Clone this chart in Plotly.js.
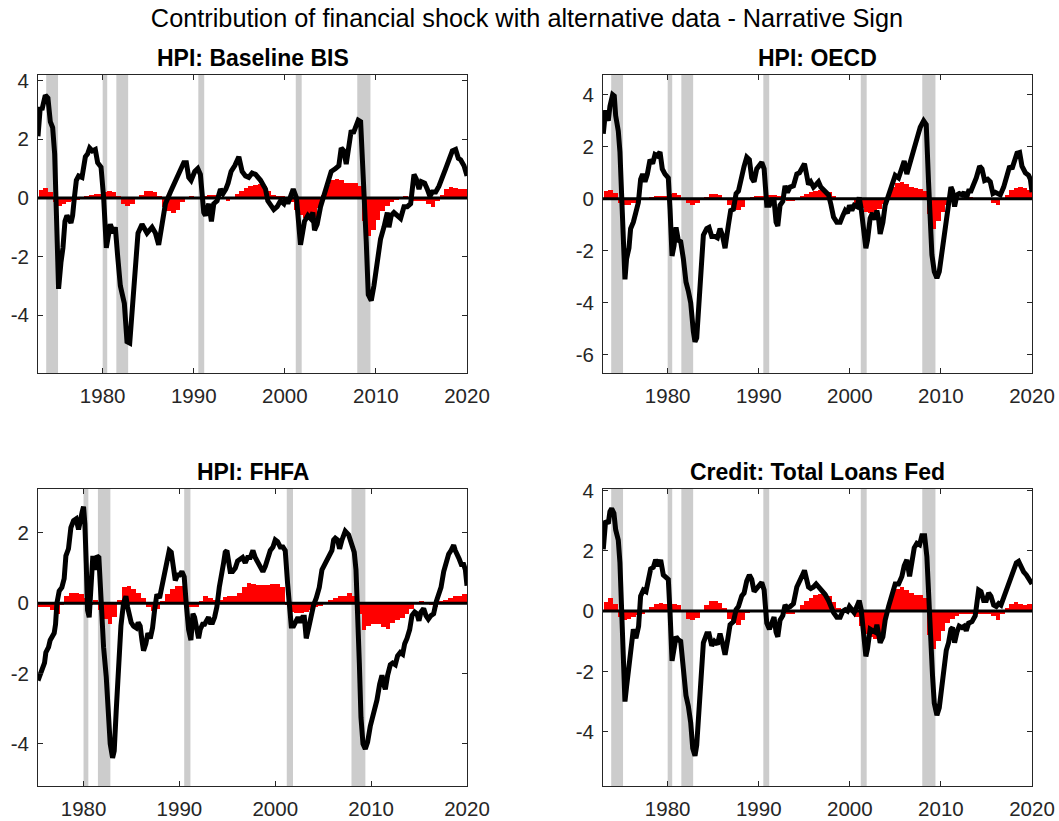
<!DOCTYPE html>
<html>
<head>
<meta charset="utf-8">
<script src="https://cdn.plot.ly/plotly-3.0.1.min.js"></script>
<style>html,body{margin:0;padding:0;background:#fff;}#chart{width:1059px;height:821px;}</style>
</head>
<body>
<div id="chart"></div>
<script>
// ---------- DATA ----------
const recessionStarts = [1973.8, 1980.0, 1981.5, 1990.5, 2001.2, 2007.95];
const recessionEnds   = [1975.1, 1980.5, 1982.8, 1991.15, 2001.85, 2009.4];

const xTickVals = [1980, 1990, 2000, 2010, 2020];
const xTickText = ['1980', '1990', '2000', '2010', '2020'];

const panelTitles = ['HPI: Baseline BIS', 'HPI: OECD', 'HPI: FHFA', 'Credit: Total Loans Fed'];
const mainTitle = 'Contribution of financial shock with alternative data - Narrative Sign';

// Half-year bar dates (panels 1, 2, 4)
const barDates = [1973.25,1973.75,1974.25,1974.75,1975.25,1975.75,1976.25,1976.75,1977.25,1977.75,1978.25,1978.75,1979.25,1979.75,
1980.25,1980.75,1981.25,1981.75,1982.25,1982.75,1983.25,1983.75,1984.25,1984.75,1985.25,1985.75,1986.25,1986.75,1987.25,1987.75,1988.25,1988.75,1989.25,1989.75,
1990.25,1990.75,1991.25,1991.75,1992.25,1992.75,1993.25,1993.75,1994.25,1994.75,1995.25,1995.75,1996.25,1996.75,1997.25,1997.75,1998.25,1998.75,1999.25,1999.75,
2000.25,2000.75,2001.25,2001.75,2002.25,2002.75,2003.25,2003.75,2004.25,2004.75,2005.25,2005.75,2006.25,2006.75,2007.25,2007.75,2008.25,2008.75,2009.25,2009.75,
2010.25,2010.75,2011.25,2011.75,2012.25,2012.75,2013.25,2013.75,2014.25,2014.75,2015.25,2015.75,2016.25,2016.75,2017.25,2017.75,2018.25,2018.75,2019.25,2019.75];
// Half-year bar dates (panel 3)
const fhfaBarDates = [1975.25,1975.75,1976.25,1976.75,1977.25,1977.75,1978.25,1978.75,1979.25,1979.75,
1980.25,1980.75,1981.25,1981.75,1982.25,1982.75,1983.25,1983.75,1984.25,1984.75,1985.25,1985.75,1986.25,1986.75,1987.25,1987.75,1988.25,1988.75,1989.25,1989.75,
1990.25,1990.75,1991.25,1991.75,1992.25,1992.75,1993.25,1993.75,1994.25,1994.75,1995.25,1995.75,1996.25,1996.75,1997.25,1997.75,1998.25,1998.75,1999.25,1999.75,
2000.25,2000.75,2001.25,2001.75,2002.25,2002.75,2003.25,2003.75,2004.25,2004.75,2005.25,2005.75,2006.25,2006.75,2007.25,2007.75,2008.25,2008.75,2009.25,2009.75,
2010.25,2010.75,2011.25,2011.75,2012.25,2012.75,2013.25,2013.75,2014.25,2014.75,2015.25,2015.75,2016.25,2016.75,2017.25,2017.75,2018.25,2018.75,2019.25,2019.75];

// Panel 1: HPI Baseline BIS
const bisBars = [0.28,0.33,0.2,-0.15,-0.28,-0.2,-0.15,-0.1,-0.07,-0.02,0.08,0.1,0.12,0.15,
0.2,0.23,0.2,0.05,-0.2,-0.27,-0.2,-0.05,0.1,0.22,0.25,0.2,0.05,-0.3,-0.45,-0.5,-0.4,-0.15,0.03,0.05,
-0.05,-0.05,0.05,0.1,0.1,0.05,-0.05,-0.1,0.0,0.15,0.25,0.35,0.4,0.45,0.47,0.4,0.25,0.1,0.05,0.05,
0.0,-0.15,-0.4,-0.6,-0.7,-0.75,-0.65,-0.35,0.1,0.45,0.62,0.65,0.6,0.52,0.5,0.5,0.42,-0.8,-1.3,-1.1,
-0.75,-0.45,-0.28,-0.15,-0.08,0.03,0.05,0.03,-0.1,-0.12,-0.1,-0.2,-0.3,-0.1,0.1,0.3,0.38,0.35,0.3,0.32];
const bisLineYears = [1972.9,1973.15,1973.33,1973.52,1973.7,1973.99,1974.25,1974.51,1974.73,1974.87,1974.98,1975.16,1975.42,1975.64,1975.86,1976.08,1976.52,1976.7,1976.89,1977.11,1977.36,1977.73,1978.1,1978.35,1978.57,1978.86,1979.19,1979.45,1979.82,
1980.11,1980.4,1980.84,1981.21,1981.39,1981.65,1981.94,1982.38,1982.67,1982.97,1983.33,1983.59,1983.88,1984.32,1984.87,1985.42,1985.79,1986.15,1986.63,1986.89,1987.44,1987.99,1988.53,1988.9,1989.19,1989.45,1989.71,
1990.11,1990.44,1990.73,1991.1,1991.28,1991.65,1991.94,1992.2,1992.56,1992.93,1993.22,1993.52,1993.77,1994.1,1994.51,1994.95,1995.31,1995.68,1996.04,1996.41,1996.78,1997.33,1997.88,1998.13,1998.5,1998.79,1999.16,1999.52,1999.89,
2000.11,2000.33,2000.92,2001.28,2001.72,2002.16,2002.53,2002.82,2003.08,2003.26,2003.55,2003.92,2004.29,2004.65,2005.09,2005.57,2005.93,2006.19,2006.48,2006.74,2007.03,2007.29,2007.51,2007.84,2008.06,2008.32,2008.68,2008.94,2009.16,2009.49,2009.78,
2010.15,2010.51,2010.88,2011.25,2011.43,2011.68,2011.98,2012.34,2012.71,2013.08,2013.44,2013.81,2014.18,2014.43,2014.73,2014.98,2015.35,2015.64,2015.93,2016.19,2016.56,2016.92,2017.29,2017.66,2018.02,2018.39,2018.75,2019.05,2019.3,2019.67,2020.0];
const bisLineValues = [2.1,3.1,3.0,3.3,3.5,3.4,2.6,2.4,1.5,0.0,-2.2,-3.1,-2.2,-1.7,-0.8,-0.6,-0.85,-0.6,0.0,0.6,0.75,0.7,1.4,1.5,1.7,1.6,1.65,1.2,1.05,
0.0,-1.7,-0.9,-1.2,-1.0,-2.0,-3.0,-3.6,-4.9,-4.95,-3.5,-2.0,-1.2,-0.9,-1.2,-1.0,-1.2,-1.6,-0.5,-0.2,0.2,0.6,1.0,1.2,1.2,0.7,0.6,
0.9,1.0,0.8,-0.5,-0.6,-0.2,-0.8,-0.2,-0.1,0.3,0.15,0.3,0.5,0.9,1.1,1.4,0.9,0.75,0.7,0.85,0.8,0.6,0.3,-0.1,-0.3,-0.4,-0.3,-0.1,-0.2,
0.0,-0.2,0.3,0.0,-1.6,-0.8,-0.6,-0.7,-0.5,-1.1,-0.9,-0.3,0.1,0.4,0.9,1.0,1.1,1.7,1.6,1.15,1.9,2.3,2.2,2.5,2.65,2.6,0.5,-1.5,-3.3,-3.5,-3.0,
-2.0,-1.4,-1.0,-0.5,-1.0,-0.6,-0.5,-0.6,-0.7,-0.3,-0.3,-0.2,0.8,0.65,0.3,0.55,0.5,0.3,0.05,0.2,0.2,0.4,0.75,1.0,1.3,1.6,1.65,1.35,1.3,1.1,0.75];

// Panel 2: HPI OECD
const oecdBars = [0.3,0.35,0.22,-0.15,-0.25,-0.22,-0.15,-0.1,-0.05,0.02,0.08,0.1,0.12,0.12,
0.18,0.22,0.15,0.0,-0.15,-0.22,-0.18,-0.05,0.08,0.17,0.2,0.15,0.0,-0.25,-0.4,-0.45,-0.3,-0.05,0.05,0.1,
0.1,0.1,0.15,0.15,0.1,0.0,-0.08,-0.1,-0.02,0.1,0.18,0.25,0.3,0.35,0.35,0.25,0.1,0.02,0.02,-0.02,
-0.05,-0.15,-0.35,-0.5,-0.55,-0.5,-0.4,-0.2,0.15,0.45,0.6,0.65,0.55,0.45,0.4,0.38,0.3,-0.6,-1.15,-0.85,
-0.5,-0.25,-0.1,-0.03,0.02,0.03,0.05,0.03,0.0,-0.03,-0.05,-0.15,-0.25,-0.05,0.15,0.35,0.42,0.45,0.4,0.35];
const oecdLineYears = [1972.93,1973.19,1973.48,1973.66,1973.96,1974.14,1974.29,1974.58,1974.76,1974.95,1975.13,1975.31,1975.49,1975.75,1975.93,1976.23,1976.52,1976.78,1977.03,1977.25,1977.51,1977.77,1978.06,1978.35,1978.61,1978.86,1979.16,1979.41,1979.71,
1980.07,1980.26,1980.48,1980.7,1980.92,1981.17,1981.43,1981.72,1982.01,1982.27,1982.53,1982.82,1983.0,1983.19,1983.44,1983.66,1983.92,1984.29,1984.54,1984.84,1985.2,1985.46,1985.75,1986.01,1986.3,1986.67,1986.92,1987.22,1987.51,1987.77,1988.13,1988.39,1988.68,1988.97,1989.23,1989.49,1989.78,
1990.07,1990.33,1990.59,1990.88,1991.17,1991.43,1991.68,1991.9,1992.09,1992.34,1992.64,1992.89,1993.15,1993.44,1993.81,1994.18,1994.47,1994.73,1995.02,1995.27,1995.46,1995.71,1996.01,1996.3,1996.56,1996.81,1997.29,1997.66,1997.91,1998.21,1998.57,1998.94,1999.23,1999.49,1999.74,1999.96,
2000.22,2000.48,2000.77,2001.03,2001.25,2001.5,2001.76,2001.94,2002.23,2002.49,2002.78,2002.97,2003.15,2003.33,2003.63,2003.88,2004.25,2004.62,2004.98,2005.35,2005.71,2005.97,2006.26,2006.45,2006.81,2007.07,2007.44,2007.73,2008.1,2008.39,2008.64,2008.83,2009.01,2009.27,2009.56,2009.82,
2010.11,2010.37,2010.59,2010.84,2011.1,2011.28,2011.5,2011.76,2012.01,2012.31,2012.56,2012.78,2013.04,2013.3,2013.59,2013.88,2014.25,2014.51,2014.8,2015.13,2015.42,2015.71,2015.97,2016.26,2016.52,2016.89,2017.25,2017.55,2017.8,2018.06,2018.35,2018.64,2018.9,2019.27,2019.63,2019.82,2020.0];
const oecdLineValues = [2.5,3.4,3.0,3.55,4.0,3.95,3.2,2.6,1.8,0.0,-2.3,-3.1,-2.3,-1.9,-1.15,-0.9,-0.5,-0.15,0.75,0.95,0.65,0.95,1.5,1.35,1.7,1.65,1.8,1.15,0.95,
0.8,-0.4,-2.2,-1.8,-1.1,-1.6,-1.65,-2.3,-3.2,-3.55,-4.0,-5.1,-5.5,-5.35,-3.8,-2.8,-1.4,-1.15,-1.1,-1.45,-1.45,-1.5,-1.15,-1.4,-1.9,-1.0,-0.45,-0.4,0.2,0.3,0.95,1.25,1.6,1.5,0.8,0.65,1.15,
1.25,1.4,1.15,-0.25,-0.25,-0.05,-0.05,-0.9,-1.05,-0.25,-0.1,0.5,0.25,0.45,0.5,0.95,1.0,1.2,1.35,0.9,0.55,0.65,0.45,0.55,0.65,0.45,0.3,0.15,-0.2,-0.7,-0.9,-0.9,-0.65,-0.45,-0.55,-0.25,
-0.45,-0.25,-0.3,0.05,-0.4,-1.3,-1.9,-1.6,-0.75,-0.55,-0.8,-0.45,-0.75,-1.35,-0.9,-0.25,0.15,0.55,0.9,0.8,1.15,1.45,0.95,1.15,1.65,1.95,2.4,2.75,3.0,2.85,0.65,-1.0,-2.15,-2.8,-3.05,-2.8,
-2.05,-1.5,-0.9,0.0,0.45,0.3,-0.3,0.15,0.2,0.15,0.25,0.0,0.3,0.3,0.55,0.8,1.25,1.15,0.7,0.75,0.65,0.2,0.25,0.2,0.15,0.45,0.9,1.25,1.15,1.5,1.75,1.78,1.25,1.0,0.9,0.75,0.25];

// Panel 3: HPI FHFA
const fhfaBars = [-0.1,-0.1,-0.12,-0.2,-0.3,-0.05,0.2,0.3,0.28,0.25,
0.15,-0.05,0.1,-0.2,-0.45,-0.6,-0.4,0.1,0.45,0.5,0.4,0.3,0.15,-0.1,-0.22,-0.15,0.05,0.25,0.4,0.5,
0.5,-0.05,-0.12,-0.1,0.05,0.2,0.15,0.08,0.1,0.18,0.2,0.2,0.3,0.45,0.57,0.55,0.52,0.53,0.52,0.55,
0.55,0.45,-0.05,-0.25,-0.28,-0.28,-0.25,-0.18,-0.12,-0.08,-0.03,0.08,0.15,0.2,0.22,0.28,0.2,-0.3,-0.75,-0.65,
-0.58,-0.58,-0.68,-0.72,-0.55,-0.48,-0.42,-0.32,-0.15,0.02,0.05,0.03,-0.05,-0.1,0.05,0.1,0.15,0.2,0.22,0.25];
const fhfaLineYears = [1975.25,1975.48,1975.72,1975.93,1976.07,1976.35,1976.52,1976.8,1976.94,1977.08,1977.22,1977.46,1977.74,1977.98,1978.16,1978.43,1978.68,1978.96,1979.23,1979.48,1979.65,1979.86,
1980.0,1980.14,1980.28,1980.42,1980.59,1980.77,1980.97,1981.18,1981.39,1981.6,1981.84,1982.09,1982.37,1982.61,1982.78,1983.03,1983.2,1983.41,1983.65,1983.9,1984.17,1984.42,1984.59,1984.77,1984.97,1985.22,1985.5,1985.7,1985.91,1986.09,1986.26,1986.5,1986.71,1986.96,1987.2,1987.41,1987.65,1987.93,1988.17,1988.45,1988.7,1988.94,1989.15,1989.32,1989.57,1989.81,
1990.02,1990.26,1990.5,1990.71,1990.96,1991.2,1991.41,1991.58,1991.76,1992.0,1992.17,1992.42,1992.63,1992.87,1993.04,1993.22,1993.46,1993.67,1993.91,1994.16,1994.4,1994.61,1994.78,1994.96,1995.1,1995.3,1995.55,1995.83,1996.07,1996.35,1996.59,1996.87,1997.11,1997.39,1997.67,1997.91,1998.16,1998.43,1998.71,1998.96,1999.23,1999.48,1999.76,
2000.0,2000.24,2000.52,2000.8,2001.04,2001.29,2001.5,2001.67,2001.91,2002.16,2002.37,2002.61,2002.85,2003.03,2003.23,2003.48,2003.72,2004.0,2004.28,2004.59,2004.87,2005.22,2005.57,2005.91,2006.09,2006.26,2006.5,2006.71,2006.96,2007.3,2007.65,2008.0,2008.24,2008.42,2008.59,2008.77,2008.94,2009.15,2009.39,2009.63,2009.91,
2010.26,2010.61,2010.89,2011.13,2011.3,2011.48,2011.72,2012.0,2012.24,2012.52,2012.76,2013.04,2013.29,2013.5,2013.74,2014.02,2014.26,2014.54,2014.78,2014.99,2015.2,2015.48,2015.72,2015.97,2016.24,2016.52,2016.8,2017.04,2017.29,2017.57,2017.81,2018.09,2018.33,2018.61,2018.78,2018.96,2019.2,2019.41,2019.65,2019.83,2020.0];
const fhfaLineValues = [-2.2,-2.05,-1.9,-1.7,-1.4,-1.25,-1.05,-0.95,-0.85,-0.6,0.0,0.35,0.45,0.7,1.35,1.55,2.15,2.35,2.4,2.1,2.4,2.6,
2.75,2.25,1.15,-0.2,-0.4,0.75,1.35,0.95,1.35,1.3,-0.2,-1.25,-2.1,-3.05,-4.0,-4.4,-4.2,-3.05,-1.6,-0.65,0.0,0.2,-0.1,-0.4,-0.55,-0.65,-0.7,-0.55,-0.65,-1.05,-1.35,-1.15,-0.85,-1.0,-0.7,-0.2,0.25,0.15,0.5,0.9,1.15,1.5,1.45,1.05,0.65,0.8,
0.8,0.9,0.75,0.0,-0.75,-1.05,-0.3,-0.4,-0.65,-1.0,-0.75,-0.6,-0.6,-0.5,-0.4,-0.55,-0.55,-0.4,-0.1,0.45,0.75,1.15,1.45,1.5,1.25,0.9,0.9,1.0,1.2,1.25,1.3,1.15,1.3,1.3,1.5,1.3,1.15,1.05,0.9,1.05,1.3,1.5,1.6,
1.8,1.75,1.6,1.6,1.5,0.55,-0.3,-0.65,-0.65,-0.5,-0.4,-0.55,-0.4,-0.4,-1.0,-0.7,-0.3,-0.05,0.15,0.45,0.95,1.15,1.35,1.5,1.8,1.85,1.8,1.55,1.8,2.05,1.95,1.7,1.45,0.95,0.0,-1.7,-3.25,-4.0,-4.15,-3.95,-3.5,
-3.15,-2.75,-2.3,-2.05,-2.3,-2.45,-2.05,-1.75,-1.7,-1.75,-1.5,-1.4,-1.45,-1.15,-1.0,-0.75,-0.35,-0.25,-0.3,-0.5,-0.25,-0.15,-0.35,-0.45,-0.35,-0.3,0.05,0.25,0.45,0.9,1.15,1.4,1.5,1.65,1.5,1.35,1.25,1.1,1.1,0.95,0.5];

// Panel 4: Credit Total Loans Fed
const loansBars = [0.3,0.42,0.25,-0.2,-0.3,-0.25,-0.18,-0.12,-0.08,0.02,0.15,0.25,0.28,0.25,
0.2,0.25,0.2,0.0,-0.25,-0.3,-0.22,-0.02,0.2,0.33,0.35,0.28,0.1,-0.25,-0.4,-0.45,-0.3,-0.05,0.02,0.02,
0.0,0.02,0.05,0.05,0.05,0.0,-0.08,-0.1,0.0,0.2,0.35,0.45,0.52,0.57,0.58,0.5,0.3,0.1,0.05,0.03,
0.0,-0.2,-0.5,-0.75,-0.85,-0.92,-0.8,-0.45,0.15,0.6,0.75,0.8,0.7,0.6,0.55,0.55,0.45,-0.8,-1.25,-1.0,
-0.65,-0.4,-0.25,-0.15,-0.1,-0.1,-0.1,-0.08,-0.1,-0.08,-0.1,-0.15,-0.3,-0.1,0.1,0.25,0.3,0.25,0.2,0.25];
const loansLineYears = [1972.93,1973.19,1973.48,1973.66,1973.85,1974.1,1974.29,1974.58,1974.76,1974.95,1975.13,1975.31,1975.49,1975.75,1975.97,1976.23,1976.52,1976.81,1977.03,1977.33,1977.62,1977.88,1978.13,1978.42,1978.68,1978.97,1979.23,1979.52,1979.82,
1980.07,1980.26,1980.48,1980.7,1980.92,1981.17,1981.43,1981.72,1982.01,1982.27,1982.53,1982.75,1983.0,1983.19,1983.44,1983.66,1983.92,1984.29,1984.54,1984.84,1985.13,1985.46,1985.75,1986.01,1986.3,1986.59,1986.85,1987.22,1987.51,1987.77,1988.13,1988.39,1988.68,1988.97,1989.23,1989.49,1989.78,
1990.07,1990.33,1990.59,1990.88,1991.17,1991.43,1991.68,1991.9,1992.09,1992.34,1992.64,1992.89,1993.15,1993.44,1993.81,1994.18,1994.47,1994.73,1995.02,1995.27,1995.46,1995.71,1996.01,1996.3,1996.56,1996.81,1997.29,1997.66,1997.91,1998.21,1998.57,1998.94,1999.23,1999.49,1999.74,1999.96,
2000.22,2000.48,2000.77,2001.03,2001.25,2001.5,2001.76,2001.94,2002.23,2002.49,2002.78,2002.97,2003.15,2003.33,2003.63,2003.88,2004.25,2004.62,2004.98,2005.35,2005.71,2005.97,2006.26,2006.56,2006.81,2007.07,2007.36,2007.66,2007.91,2008.21,2008.46,2008.64,2008.83,2009.08,2009.27,2009.56,2009.82,
2010.11,2010.37,2010.59,2010.84,2011.1,2011.28,2011.5,2011.76,2012.01,2012.31,2012.56,2012.78,2013.04,2013.41,2013.77,2014.14,2014.4,2014.69,2014.98,2015.24,2015.49,2015.79,2016.08,2016.34,2016.59,2016.89,2017.18,2017.44,2017.69,2017.99,2018.28,2018.53,2018.79,2019.08,2019.38,2019.63,2019.89,2020.0];
const loansLineValues = [2.05,3.0,2.9,3.3,3.4,3.25,2.7,2.35,1.6,0.05,-1.9,-3.0,-2.5,-1.8,-0.95,-0.6,-0.9,-0.5,0.5,0.7,0.65,0.95,1.4,1.45,1.7,1.5,1.7,1.2,1.1,
1.05,-0.05,-1.65,-1.25,-0.85,-0.95,-1.0,-1.9,-2.8,-3.15,-3.7,-4.55,-4.8,-4.45,-3.25,-2.35,-1.05,-0.75,-0.75,-1.15,-1.0,-1.1,-0.75,-1.05,-1.45,-0.95,-0.45,-0.35,0.05,0.15,0.5,0.6,1.0,1.2,1.05,0.65,0.75,
0.8,0.95,0.7,-0.4,-0.6,-0.35,-0.2,-0.7,-0.85,-0.3,-0.15,0.2,0.1,0.15,0.25,0.8,0.95,1.15,1.35,0.9,0.8,0.75,0.8,0.9,0.8,0.75,0.55,0.35,0.15,-0.05,-0.2,-0.2,0.0,0.05,0.0,0.15,
0.05,-0.05,0.15,0.35,0.05,-0.7,-1.5,-1.25,-0.6,-0.65,-0.7,-0.45,-0.7,-1.05,-0.85,-0.3,0.15,0.55,0.9,0.9,1.15,1.5,1.7,1.15,1.55,2.1,2.25,2.2,2.5,2.5,1.8,0.5,-0.95,-2.15,-3.05,-3.45,-3.2,
-2.5,-1.75,-1.3,-1.05,-0.6,-0.55,-1.05,-0.7,-0.5,-0.55,-0.5,-0.65,-0.4,-0.35,-0.15,0.7,0.65,0.35,0.35,0.6,0.5,0.2,0.15,0.25,0.2,0.45,0.7,0.8,1.1,1.4,1.6,1.65,1.45,1.3,1.2,1.1,1.0,0.9];

// ---------- PANELS ----------
const panels = [
  {bars: bisBars, dates: barDates, ly: bisLineYears, lv: bisLineValues, xr: [1972.9, 2020.0], yr: [-5.97, 4.19], yt: [-4,-2,0,2,4]},
  {bars: oecdBars, dates: barDates, ly: oecdLineYears, lv: oecdLineValues, xr: [1972.9, 2020.0], yr: [-6.7, 4.76], yt: [-6,-4,-2,0,2,4]},
  {bars: fhfaBars, dates: fhfaBarDates, ly: fhfaLineYears, lv: fhfaLineValues, xr: [1975.25, 2020.0], yr: [-5.2, 3.25], yt: [-4,-2,0,2]},
  {bars: loansBars, dates: barDates, ly: loansLineYears, lv: loansLineValues, xr: [1972.9, 2020.0], yr: [-5.8, 4.05], yt: [-4,-2,0,2,4]}
];
const W = 1059, H = 821;
const xDom = [[38/W, 467/W], [603/W, 1032/W], [38/W, 467/W], [603/W, 1032/W]];
const yDom = [[1-373/H, 1-75/H], [1-373/H, 1-75/H], [1-786/H, 1-489/H], [1-786/H, 1-489/H]];
const axisColor = '#262626';
const FONT = 'Arial, "Liberation Sans", Helvetica, sans-serif';

const traces = [];
const shapes = [];
const annotations = [];
const layout = {
  width: W, height: H, autosize: false,
  margin: {l: 0, r: 0, t: 0, b: 0},
  paper_bgcolor: '#ffffff', plot_bgcolor: '#ffffff',
  showlegend: false, hovermode: false,
  barmode: 'overlay', bargap: 0,
  font: {family: FONT, color: axisColor, size: 20},
  title: {text: mainTitle, x: 527/W, xanchor: 'center', xref: 'paper', y: 1-18/H, yanchor: 'middle', yref: 'container',
          font: {family: FONT, size: 25.3, color: '#000000'}}
};

panels.forEach((p, i) => {
  const n = i + 1;
  const xa = n === 1 ? 'x' : 'x' + n;
  const ya = n === 1 ? 'y' : 'y' + n;
  traces.push({type: 'bar', x: p.dates, y: p.bars, width: 0.5, xaxis: xa, yaxis: ya,
    marker: {color: '#ff0000', line: {width: 0}}});
  traces.push({type: 'scatter', mode: 'lines', x: p.ly, y: p.lv, xaxis: xa, yaxis: ya,
    line: {color: '#000000', width: 5}});
  const common = {showline: true, mirror: 'ticks', linecolor: axisColor, linewidth: 1,
    ticks: 'inside', ticklen: 5, tickwidth: 1, tickcolor: axisColor,
    showgrid: false, zeroline: false, fixedrange: true,
    tickfont: {family: FONT, size: 20.5, color: axisColor}};
  layout['xaxis' + (n === 1 ? '' : n)] = Object.assign({}, common, {
    domain: xDom[i], anchor: ya, range: p.xr, tickmode: 'array', tickvals: xTickVals, ticktext: xTickText,
    ticklabelstandoff: 4});
  layout['yaxis' + (n === 1 ? '' : n)] = Object.assign({}, common, {
    domain: yDom[i], anchor: xa, range: p.yr, tickmode: 'array', tickvals: p.yt,
    ticktext: p.yt.map(v => String(v)), ticklabelstandoff: 4});
  recessionStarts.forEach((s, k) => {
    shapes.push({type: 'rect', xref: xa, yref: ya + ' domain', x0: s, x1: recessionEnds[k], y0: 0, y1: 1,
      fillcolor: '#cccccc', line: {width: 0}, layer: 'below'});
  });
  shapes.push({type: 'line', xref: xa + ' domain', yref: ya, x0: 0, x1: 1, y0: 0, y1: 0,
    line: {color: '#000000', width: 3}, layer: 'above'});
  annotations.push({text: '<b>' + panelTitles[i] + '</b>', xref: 'paper', yref: 'paper',
    x: (xDom[i][0] + xDom[i][1]) / 2, y: i < 2 ? 1-58/H : 1-472/H, xanchor: 'center', yanchor: 'middle',
    showarrow: false, font: {family: FONT, size: 23, color: '#000000'}});
});
layout.shapes = shapes;
layout.annotations = annotations;

Plotly.newPlot('chart', traces, layout, {staticPlot: true, displayModeBar: false});
</script>
</body>
</html>
